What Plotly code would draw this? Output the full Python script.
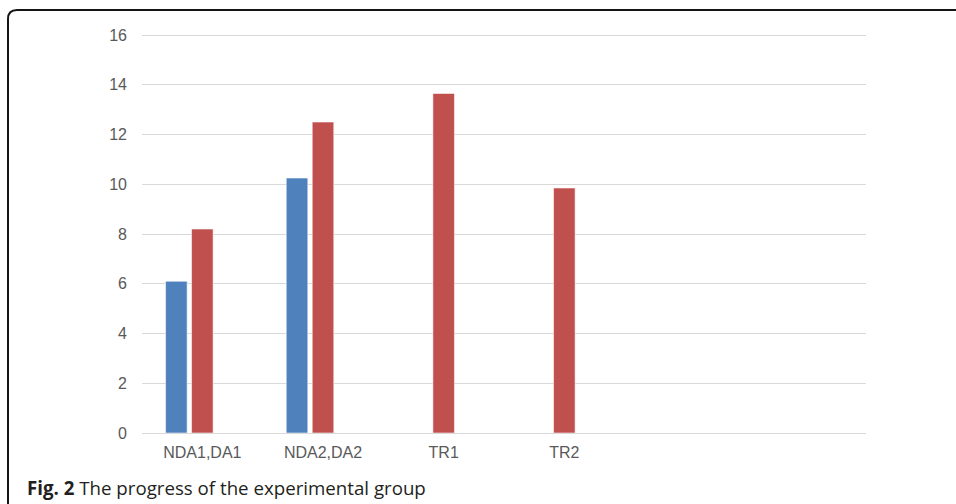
import plotly.graph_objects as go

categories = ["NDA1,DA1", "NDA2,DA2", "TR1", "TR2"]
series1 = [6.1, 10.25, None, None]
series2 = [8.2, 12.5, 13.65, 9.85]
series3 = [None, None, None, None]
y_ticks = [0, 2, 4, 6, 8, 10, 12, 14, 16]

W, H = 956, 504
UNIT = 24.875
YMAX = 16.4
L, R, B = 142, 866, 433
T = round(B - YMAX * UNIT)

def px(x):
    return (x - L) / (R - L)

def py(y):
    return (B - y) / (B - T)

fig = go.Figure()
edge = dict(color="rgba(255,255,255,0.55)", width=1)
fig.add_trace(go.Bar(x=categories, y=series1, marker=dict(color="#4f81bd", line=edge), name="Series 1"))
fig.add_trace(go.Bar(x=categories, y=series2, marker=dict(color="#c0504d", line=edge), name="Series 2"))
fig.add_trace(go.Bar(x=categories, y=series3, marker=dict(color="#9bbb59", line=edge), name="Series 3"))

frame_path = (f"M {px(8)} {py(520)} L {px(8)} {py(19)} "
              f"Q {px(8)} {py(10)} {px(17)} {py(10)} L {px(970)} {py(10)}")

fig.update_layout(
    width=W, height=H,
    margin=dict(l=L, r=W - R, t=T, b=H - B),
    paper_bgcolor="white", plot_bgcolor="white",
    barmode="group", bargap=0.354, bargroupgap=0.17,
    showlegend=False,
    font=dict(family="Liberation Sans, Arial, sans-serif", size=16, color="#595959"),
    xaxis=dict(range=[-0.5, 5.5], showgrid=False, showline=False, zeroline=False,
               ticks="", ticklabelstandoff=8, tickfont=dict(size=16, color="#595959")),
    yaxis=dict(range=[0, (B - T) / UNIT], tickvals=y_ticks, showgrid=True, gridcolor="#d9d9d9",
               gridwidth=1.3, zeroline=True, zerolinecolor="#d9d9d9", zerolinewidth=1.3,
               showline=False, ticks="", ticklabelstandoff=14,
               tickfont=dict(size=16, color="#595959")),
    shapes=[dict(type="path", xref="paper", yref="paper", path=frame_path,
                 line=dict(color="#151515", width=2))],
    annotations=[dict(xref="paper", yref="paper", x=px(25), y=py(487),
                      xanchor="left", yanchor="middle", showarrow=False,
                      text="<b>Fig. 2</b> The progress of the experimental group",
                      font=dict(family="Open Sans, Noto Sans, sans-serif", size=18.7, color="#231f20"))],
)

fig.write_html("out.html")
